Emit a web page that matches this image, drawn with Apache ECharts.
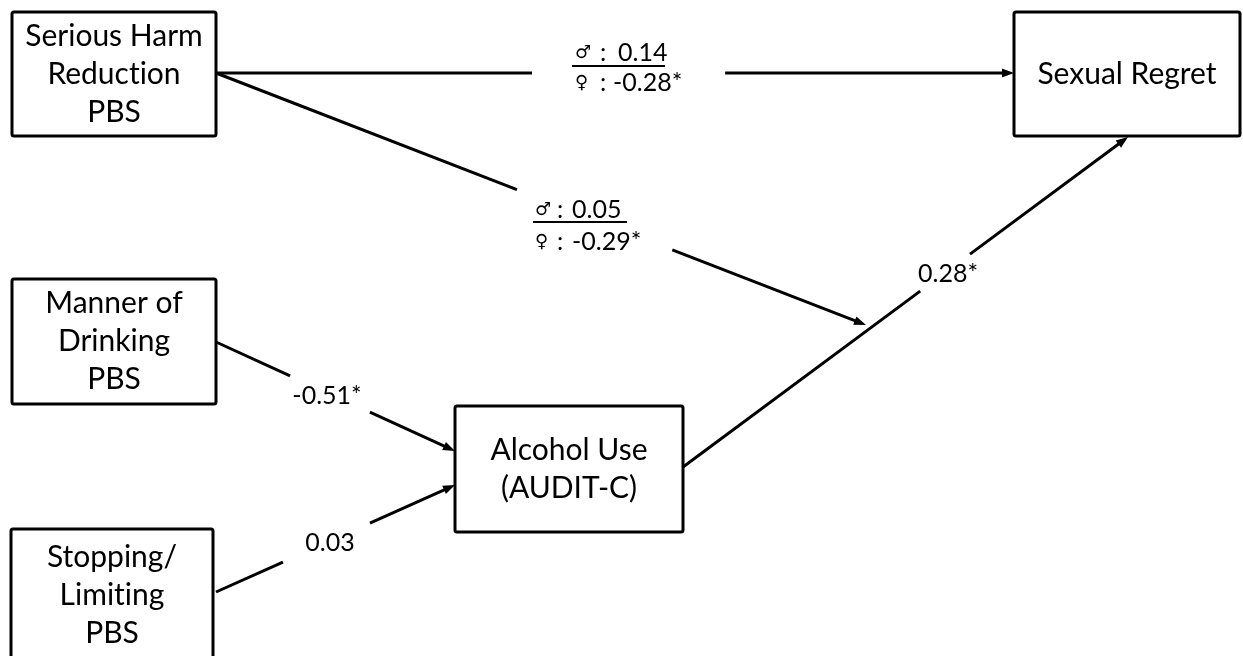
<!DOCTYPE html>
<html><head><meta charset="utf-8">
<script src="https://cdn.jsdelivr.net/npm/echarts@6/dist/echarts.min.js"></script>
<style>html,body{margin:0;padding:0;background:#fff}#c{width:1243px;height:656px}</style>
</head><body><div id="c"></div>
<script>
// ---- data ----
const nodeNames = ['Serious Harm\nReduction\nPBS', 'Sexual Regret', 'Manner of\nDrinking\nPBS', 'Alcohol Use\n(AUDIT-C)', 'Stopping/\nLimiting\nPBS'];
const groupedPaths = ['Serious Harm Reduction PBS → Sexual Regret', 'Serious Harm Reduction PBS × Alcohol Use → Sexual Regret'];
const maleCoef = ['0.14', '0.05'];
const femaleCoef = ['-0.28*', '-0.29*'];
const directPaths = ['Manner of Drinking PBS → Alcohol Use', 'Stopping/Limiting PBS → Alcohol Use', 'Alcohol Use → Sexual Regret'];
const directCoef = ['-0.51*', '0.03', '0.28*'];
const maleSymbol = '\u2642';
const femaleSymbol = '\u2640';

// ---- layout (diagram units) ----
const nodeRect = [[12,12,216,136],[1014,12,1240,136],[12,279,216,404],[455,406,683,532],[11,529,213,662]];
// edges: x1,y1,x2,y2, gap start t, gap end t
const groupedEdge = [[216,73,1014,73,0.396,0.638],[216,73,866,325,0.463,0.702]];
const directEdge = [[216,342,455,451,0.31,0.644],[216,592,455,485,0.28,0.644],[683,467,1128,137,0.533,0.645]];
// grouped label: symbol x, colon x, male value x, female value x, male y, female y, underline x1, x2, y
const groupedLabel = [[575,600,618,613,53,83,572,665,66],[535,557,572,572,210,242,533,627,222]];
const directLabel = [[327,396],[330,543],[948,274]];

const FONT = 'Lato, "Open Sans", sans-serif';
const chart = echarts.init(document.getElementById('c'), null, {renderer: 'canvas'});

// split each line into rich tokens so that "ti" is not drawn as a ligature
function richName(name) {
  return name.split('\n').map(l => '{n|' + l.replace(/t(?=i)/g, 't}{n|') + '}').join('\n');
}

function edgeChildren(api, g) {
  const p1 = api.coord([g[0], g[1]]), p2 = api.coord([g[2], g[3]]);
  const dx = p2[0]-p1[0], dy = p2[1]-p1[1], L = Math.hypot(dx, dy);
  const ux = dx/L, uy = dy/L, AL = 12, AW = 4.5;
  const pt = t => [p1[0]+dx*t, p1[1]+dy*t];
  const a = pt(g[4]), b = pt(g[5]);
  const base = [p2[0]-ux*AL, p2[1]-uy*AL];
  const st = {stroke: '#000', lineWidth: 3, lineCap: 'butt'};
  return [
    {type: 'line', shape: {x1: p1[0], y1: p1[1], x2: a[0], y2: a[1]}, style: st},
    {type: 'line', shape: {x1: b[0], y1: b[1], x2: base[0]+ux*2, y2: base[1]+uy*2}, style: st},
    {type: 'polygon', shape: {points: [[p2[0], p2[1]], [base[0]-uy*AW, base[1]+ux*AW], [base[0]+uy*AW, base[1]-ux*AW]]}, style: {fill: '#000'}}
  ];
}

const option = {
  animation: false,
  backgroundColor: '#fff',
  grid: {left: 0, right: 0, top: 0, bottom: 0},
  xAxis: {type: 'value', min: 0, max: 1243, show: false},
  yAxis: {type: 'value', min: 0, max: 656, inverse: true, show: false},
  series: [
    {
      type: 'custom', name: 'grouped paths', coordinateSystem: 'cartesian2d',
      data: groupedPaths.map((n, i) => ({name: n, value: [groupedEdge[i][0], groupedEdge[i][1]]})),
      renderItem: (params, api) => {
        const i = params.dataIndex, g = groupedEdge[i], L = groupedLabel[i];
        const c = edgeChildren(api, g);
        const sm = api.coord([L[0], L[4]]), sf = api.coord([L[0], L[5]]);
        const cm = api.coord([L[1], L[4]]), cf = api.coord([L[1], L[5]]);
        const vm = api.coord([L[2], L[4]]), vf = api.coord([L[3], L[5]]);
        const u1 = api.coord([L[6], L[8]]), u2 = api.coord([L[7], L[8]]);
        const ts = (x, y, text, font) => ({type: 'text', x: x, y: y, style: {text: text, font: font, fill: '#000', align: 'left', verticalAlign: 'middle'}});
        c.push(ts(sm[0], sm[1], maleSymbol, '18px "DejaVu Sans"'));
        c.push(ts(sf[0], sf[1], femaleSymbol, '18px "DejaVu Sans"'));
        c.push(ts(cm[0], cm[1], ':', '25px ' + FONT));
        c.push(ts(cf[0], cf[1], ':', '25px ' + FONT));
        c.push(ts(vm[0], vm[1], maleCoef[i], '25px ' + FONT));
        c.push(ts(vf[0], vf[1], femaleCoef[i], '25px ' + FONT));
        c.push({type: 'line', shape: {x1: u1[0], y1: u1[1], x2: u2[0], y2: u2[1]}, style: {stroke: '#000', lineWidth: 2}});
        return {type: 'group', children: c};
      }
    },
    {
      type: 'custom', name: 'direct paths', coordinateSystem: 'cartesian2d',
      data: directPaths.map((n, i) => ({name: n, value: [directEdge[i][0], directEdge[i][1]]})),
      renderItem: (params, api) => {
        const i = params.dataIndex, g = directEdge[i];
        const c = edgeChildren(api, g);
        const p = api.coord(directLabel[i]);
        c.push({type: 'text', x: p[0], y: p[1], style: {text: directCoef[i], font: '25px ' + FONT, fill: '#000', align: 'center', verticalAlign: 'middle'}});
        return {type: 'group', children: c};
      }
    },
    {
      type: 'custom', name: 'variables', coordinateSystem: 'cartesian2d',
      data: nodeNames.map((n, i) => ({name: n, value: [nodeRect[i][0], nodeRect[i][1]]})),
      renderItem: (params, api) => {
        const r = nodeRect[params.dataIndex];
        const a = api.coord([r[0], r[1]]), b = api.coord([r[2], r[3]]);
        return {type: 'group', children: [
          {type: 'rect', shape: {x: a[0], y: a[1], width: b[0]-a[0], height: b[1]-a[1], r: 2}, style: {fill: '#fff', stroke: '#000', lineWidth: 3}},
          {type: 'text', x: (a[0]+b[0])/2, y: (a[1]+b[1])/2, style: {
            text: richName(nodeNames[params.dataIndex]), fill: '#000', align: 'center', verticalAlign: 'middle',
            rich: {n: {fontSize: 30, fontFamily: FONT, lineHeight: 38, fill: '#000'}}
          }}
        ]};
      }
    }
  ]
};
chart.setOption(option);
</script></body></html>
